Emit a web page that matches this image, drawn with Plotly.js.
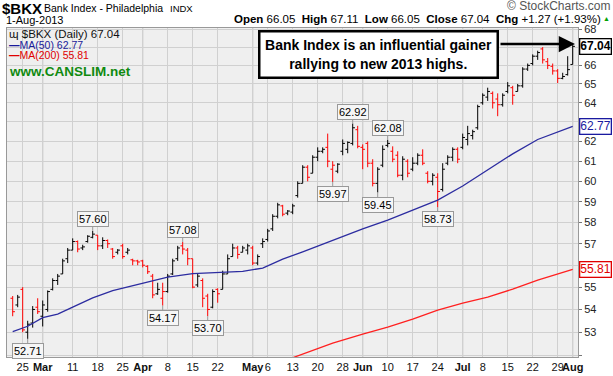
<!DOCTYPE html>
<html><head><meta charset="utf-8">
<script src="https://cdn.plot.ly/plotly-3.0.1.min.js"></script>
<style>html,body{margin:0;padding:0;background:#fff}#chart{width:613px;height:376px}</style>
</head><body><div id="chart"></div>
<script>
// ---------- DATA ----------
const dates = ['02-21','02-22','02-25','02-26','02-27','02-28',
'03-01','03-04','03-05','03-06','03-07','03-08','03-11','03-12','03-13','03-14','03-15','03-18','03-19','03-20','03-21','03-22','03-25','03-26','03-27','03-28',
'04-01','04-02','04-03','04-04','04-05','04-08','04-09','04-10','04-11','04-12','04-15','04-16','04-17','04-18','04-19','04-22','04-23','04-24','04-25','04-26','04-29','04-30',
'05-01','05-02','05-03','05-06','05-07','05-08','05-09','05-10','05-13','05-14','05-15','05-16','05-17','05-20','05-21','05-22','05-23','05-24','05-28','05-29','05-30','05-31',
'06-03','06-04','06-05','06-06','06-07','06-10','06-11','06-12','06-13','06-14','06-17','06-18','06-19','06-20','06-21','06-24','06-25','06-26','06-27','06-28',
'07-01','07-02','07-03','07-05','07-08','07-09','07-10','07-11','07-12','07-15','07-16','07-17','07-18','07-19','07-22','07-23','07-24','07-25','07-26','07-29','07-30','07-31',
'08-01'];
const open = [54.5,54.2,54.9,53.0,53.4,54.1,
53.7,54.0,54.9,55.3,55.6,56.3,56.7,57.1,56.8,57.1,57.3,57.4,56.9,57.15,56.75,56.6,56.9,56.6,56.25,56.2,
56.2,55.95,55.5,54.7,54.5,54.8,55.6,56.3,56.9,56.7,56.3,55.1,55.3,54.6,54.1,54.9,54.9,55.6,56.4,56.8,56.6,56.7,
56.8,56.1,57.0,57.2,57.7,58.3,58.8,58.45,58.5,59.3,59.9,60.7,60.4,61.2,61.5,61.7,60.6,60.5,61.5,61.6,61.9,62.6,
61.7,61.9,60.9,59.9,60.8,61.8,61.5,61.3,60.3,61.0,60.6,60.9,61.3,60.4,60.0,60.2,59.6,60.9,61.2,61.6,
61.7,62.1,62.3,62.7,64.0,64.3,64.5,64.2,63.9,64.6,64.8,64.6,64.9,65.8,66.1,66.5,66.9,66.2,65.95,65.7,65.3,65.5,
66.05];
const high = [54.6,54.65,55.0,53.5,54.15,54.5,
54.4,54.85,55.4,55.6,56.3,56.8,57.25,57.15,56.95,57.4,57.6,57.4,57.3,57.2,56.8,56.75,57.0,56.8,56.3,56.25,
56.25,56.0,55.6,55.2,55.2,55.6,56.3,56.9,57.08,56.8,56.3,55.6,55.4,54.7,54.9,54.95,55.75,56.5,57.0,56.9,56.9,57.0,
56.9,56.5,57.25,57.7,58.4,58.95,58.85,58.6,58.9,60.0,60.8,60.8,61.3,61.7,61.7,62.4,61.0,60.9,62.1,62.0,62.92,62.8,
61.85,62.0,61.1,60.7,61.8,62.08,61.75,61.5,61.25,61.1,61.2,61.4,61.6,60.5,60.4,60.4,60.9,61.3,61.7,61.7,
62.4,62.8,62.6,63.9,64.5,64.8,64.6,64.5,64.5,65.1,64.9,65.0,65.9,66.1,66.6,66.8,67.0,66.4,66.1,65.8,65.6,66.5,
67.11];
const low = [53.7,54.1,53.0,52.71,53.2,53.8,
53.25,53.9,54.85,55.1,55.6,56.1,56.7,56.6,56.7,57.05,57.25,56.7,56.75,56.8,56.3,56.5,56.3,56.5,56.0,56.0,
55.9,55.6,54.5,54.65,54.17,54.75,55.55,56.2,56.5,56.0,54.95,55.0,54.1,53.7,54.05,54.3,54.9,55.6,56.4,56.3,56.6,56.5,
56.0,56.0,56.8,57.1,57.6,58.2,58.3,58.35,58.4,59.2,59.9,60.0,60.4,61.0,61.4,60.7,59.97,60.4,61.3,61.4,61.8,61.65,
60.6,60.7,59.75,59.45,60.7,61.7,60.95,60.2,60.05,60.2,60.5,60.8,60.8,59.9,59.8,58.73,59.5,60.8,61.0,60.9,
61.6,61.8,62.1,62.6,63.9,64.1,63.7,63.3,63.8,64.5,63.9,64.6,64.8,65.7,66.0,66.3,66.1,65.8,65.5,65.05,65.25,65.45,
66.05];
const close = [53.9,54.55,53.1,53.35,54.0,53.9,
54.2,54.8,55.3,55.5,56.2,56.7,57.1,56.75,56.85,57.35,57.45,56.9,57.15,57.0,56.4,56.7,56.4,56.7,56.2,56.15,
56.0,55.7,54.65,54.9,54.8,55.5,56.2,56.8,56.75,56.3,55.0,55.5,54.5,54.0,54.8,54.7,55.6,56.3,56.8,56.5,56.8,56.9,
56.1,56.4,57.1,57.6,58.3,58.85,58.4,58.55,58.8,59.9,60.7,60.2,61.2,61.5,61.6,61.0,60.8,60.85,61.9,61.95,62.7,61.75,
61.6,60.9,59.9,60.6,61.6,61.9,61.1,60.3,61.1,60.4,60.9,61.3,60.9,60.0,60.3,59.5,60.6,61.2,61.6,61.1,
62.2,62.4,62.5,63.8,64.4,64.6,64.0,63.9,64.4,64.9,64.4,64.9,65.8,66.0,66.5,66.7,66.3,66.0,65.7,65.3,65.4,65.77,
67.04];
const ma50Dates = ['02-21','02-26','03-01','03-06','03-11','03-15','03-21','03-26','04-01','04-08','04-15','04-22','04-29','05-03','05-09','05-15','05-23','06-03','06-10','06-17','06-24','07-01','07-09','07-16','07-23','08-01'];
const ma50 = [53.02,53.26,53.64,53.79,54.10,54.52,54.84,55.00,55.15,55.45,55.61,55.65,55.72,55.87,56.28,56.62,57.17,57.70,58.12,58.60,59.08,59.77,60.55,61.37,62.10,62.77];
const ma200Dates = ['05-10','05-16','05-23','06-03','06-10','06-17','06-24','07-01','07-09','07-16','07-23','08-01'];
const ma200 = [51.82,52.14,52.53,52.92,53.22,53.57,53.97,54.28,54.55,54.91,55.32,55.81];
const tickDates = ['02-25','03-01','03-11','03-18','03-25','04-01','04-08','04-15','04-22','05-01','05-06','05-13','05-20','05-28','06-03','06-10','06-17','06-24','07-01','07-08','07-15','07-22','07-29','08-01'];
const tickLabels = ['25','Mar','11','18','25','Apr','8','15','22','May','6','13','20','28','Jun','10','17','24','Jul','8','15','22','29','Aug'];
const monthDates = ['03-01','04-01','05-01','06-03','07-01','08-01'];
const priceTicks = [52,53,54,55,56,57,58,59,60,61,62,63,64,65,66,67,68];
const hiddenPriceLabels = [52,56,63,67];
const highLabelDates = ['03-15','04-11','05-30','06-10'];
const lowLabelDates = ['02-26','04-05','04-18','05-23','06-06','06-24'];

// ---------- BUILD ----------
const idx = d => dates.indexOf(d);
const n = dates.length;
const up = close.map((c,i)=> i>0 ? c>=close[i-1] : c>=open[i]);
function pick(flag){
  const r={x:[],o:[],h:[],l:[],c:[]};
  for(let i=0;i<n;i++) if(up[i]===flag){r.x.push(i);r.o.push(open[i]);r.h.push(high[i]);r.l.push(low[i]);r.c.push(close[i]);}
  return r;
}
function ohlcTrace(r,color){
  return {type:'ohlc',x:r.x,open:r.o,high:r.h,low:r.l,close:r.c,tickwidth:0.45,hoverinfo:'skip',
    increasing:{line:{color:color,width:1}},decreasing:{line:{color:color,width:1}},showlegend:false};
}
const blk = pick(true), red = pick(false);
const traces = [
  {type:'scatter',mode:'lines',x:ma200Dates.map(idx),y:ma200,line:{color:'#ff2020',width:1.3},hoverinfo:'skip',showlegend:false},
  {type:'scatter',mode:'lines',x:ma50Dates.map(idx),y:ma50,line:{color:'#2c2ca0',width:1.3},hoverinfo:'skip',showlegend:false},
  ohlcTrace(blk,'#000000'),
  ohlcTrace(red,'#ff0000')
];

const P = {x0:7,x1:578,y0:28,y1:357};
const px = x => (x-P.x0)/(P.x1-P.x0);
const py = y => (P.y1-y)/(P.y1-P.y0);
const F = 'Liberation Sans, Arial, sans-serif';
const last = n-1;
const chg = close[last]-close[last-1];
const pct = chg/close[last-1]*100;

const ann = [];
function txt(text,x,y,size,color,anchor,extra){
  ann.push(Object.assign({xref:'paper',yref:'paper',x:px(x),y:py(y),text:text,showarrow:false,borderpad:0,
    xanchor:anchor||'left',yanchor:'middle',font:{family:F,size:size,color:color||'#000'}},extra||{}));
}
// header
txt('<b>$BKX</b>',1,8,15,'#000');
txt('Bank Index - Philadelphia',43,8,10.5,'#000');
txt('INDX',169,8,9.5,'#000');
txt('© StockCharts.com',612,6.5,12,'#555','right');
txt('1-Aug-2013',5,20,11,'#000');
txt('<b>Open</b> '+open[last].toFixed(2)+'  <b>High</b> '+high[last].toFixed(2)+'  <b>Low</b> '+low[last].toFixed(2)+
    '  <b>Close</b> '+close[last].toFixed(2)+'  <b>Chg</b> +'+chg.toFixed(2)+' (+'+pct.toFixed(2)+'%)',602,19.5,11.5,'#000','right');
txt('▲',602,18.5,7,'#00a000','left');
// legend in plot
txt('ɰ $BKX (Daily) '+close[last].toFixed(2),8,34,11.5,'#111');
txt('<b>—</b>MA(50) '+ma50[ma50.length-1].toFixed(2),8,44.5,10.5,'#1a1a9a');
txt('<b>—</b>MA(200) '+ma200[ma200.length-1].toFixed(2),8,55,10.5,'#e00000');
txt('<b>www.CANSLIM.net</b>',8,71,13.5,'#108a10');
// commentary box and arrow
ann.push({xref:'paper',yref:'paper',x:px(378),y:py(54.5),text:'<b>Bank Index is an influential gainer<br>rallying to new 2013 highs.</b>',
  showarrow:false,xanchor:'center',yanchor:'middle',width:234,height:42,bgcolor:'#fff',bordercolor:'#000',borderwidth:2.5,borderpad:1,
  font:{family:F,size:14,color:'#000'}});
ann.push({xref:'paper',yref:'paper',x:px(575),y:py(44),ax:-76,ay:0,text:'',showarrow:true,arrowhead:2,arrowsize:1.3,arrowwidth:2.5,arrowcolor:'#000',standoff:0});
// high / low labels
highLabelDates.forEach(d=>{const i=idx(d);
  ann.push({x:i,y:Math.log10(high[i]),xref:'x',yref:'y',text:high[i].toFixed(2),showarrow:true,ax:0,ay:-12,arrowhead:0,arrowwidth:1,arrowcolor:'#999',
    bgcolor:'#f6f6f6',bordercolor:'#999',borderwidth:1,borderpad:1,font:{family:F,size:11,color:'#000'}});});
lowLabelDates.forEach(d=>{const i=idx(d);
  ann.push({x:i,y:Math.log10(low[i]),xref:'x',yref:'y',text:low[i].toFixed(2),showarrow:true,ax:0,ay:12,arrowhead:0,arrowwidth:1,arrowcolor:'#999',
    bgcolor:'#f6f6f6',bordercolor:'#999',borderwidth:1,borderpad:1,font:{family:F,size:11,color:'#000'}});});
// right value tags
function tag(v,color,bold){
  ann.push({xref:'paper',yref:'y',x:1,y:Math.log10(v),xanchor:'left',yanchor:'middle',xshift:1,showarrow:false,
    text:bold?'<b>'+v.toFixed(2)+'</b>':v.toFixed(2),bgcolor:'#fff',bordercolor:color,borderwidth:1.3,borderpad:0,
    font:{family:F,size:12,color:color}});
}
tag(close[last],'#000',true);
tag(ma50[ma50.length-1],'#1a1aa0',false);
tag(ma200[ma200.length-1],'#e00000',false);

const shapes = monthDates.map(d=>({type:'line',xref:'x',yref:'paper',x0:idx(d),x1:idx(d),y0:0,y1:1,layer:'between',line:{color:'#a9a9a9',width:1}}));

const layout = {
  width:613,height:376,margin:{l:P.x0,r:613-P.x1,t:P.y0,b:376-P.y1,pad:0,autoexpand:false},
  paper_bgcolor:'#fff',plot_bgcolor:'#efefef',showlegend:false,
  xaxis:{range:[(P.x0-12.7)/5,(P.x1-12.7)/5],tickvals:tickDates.map(idx),
    ticktext:tickLabels.map((t,k)=>monthDates.includes(tickDates[k])?'<b>'+t+'</b>':t),
    tickangle:0,automargin:false,
    showgrid:true,gridcolor:'#d0d0d0',gridwidth:1,zeroline:false,ticks:'',tickfont:{family:F,size:11,color:'#111'},
    rangeslider:{visible:false},showline:true,linecolor:'#999',linewidth:1,mirror:true,fixedrange:true},
  yaxis:{type:'log',range:[Math.log10(51.93),Math.log10(68.06)],side:'right',tickvals:priceTicks,automargin:false,
    ticktext:priceTicks.map(v=>hiddenPriceLabels.includes(v)?'':String(v)),showgrid:true,gridcolor:'#d0d0d0',zeroline:false,
    ticks:'outside',ticklen:3,tickcolor:'#777',tickfont:{family:F,size:11,color:'#222'},
    showline:true,linecolor:'#999',linewidth:1,mirror:true,fixedrange:true},
  annotations:ann,shapes:shapes
};
Plotly.newPlot('chart',traces,layout,{displayModeBar:false,staticPlot:true});
</script></body></html>
